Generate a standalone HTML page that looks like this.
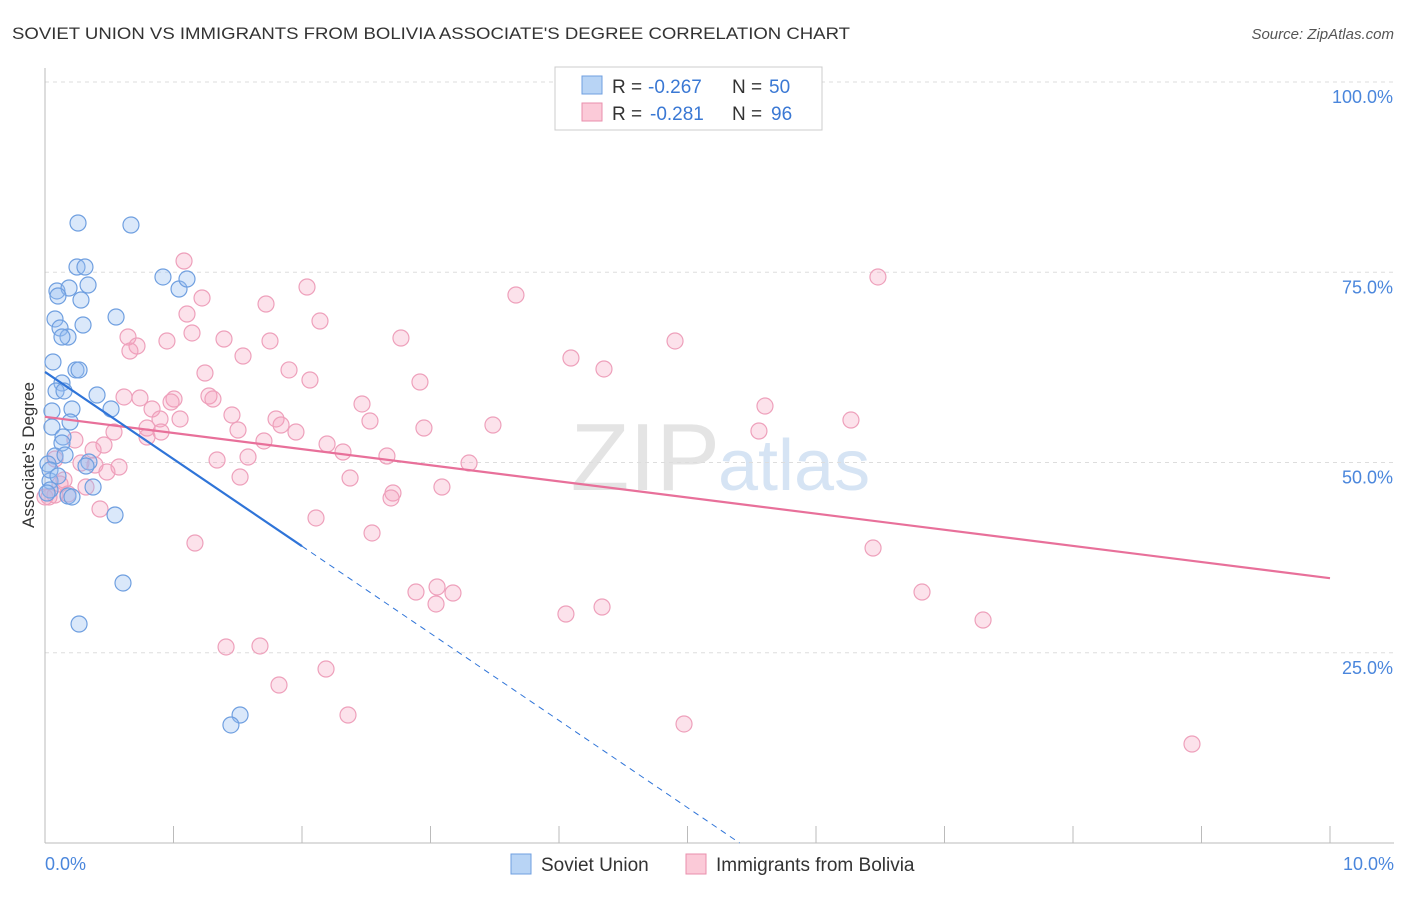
<!DOCTYPE html>
<html><head><meta charset="utf-8">
<style>
body{margin:0;background:#fff;font-family:"Liberation Sans",sans-serif;}
svg text{font-family:"Liberation Sans",sans-serif;}
</style></head>
<body>
<svg id="c" width="1406" height="892" xmlns="http://www.w3.org/2000/svg">
<text x="12" y="39" font-size="17" fill="#333" textLength="838" lengthAdjust="spacingAndGlyphs">SOVIET UNION VS IMMIGRANTS FROM BOLIVIA ASSOCIATE'S DEGREE CORRELATION CHART</text>
<text x="1394" y="39" font-size="15" fill="#555" text-anchor="end" font-style="italic">Source: ZipAtlas.com</text>
<text x="720" y="490" font-size="96" fill="#e4e4e4" text-anchor="end" font-family="Liberation Serif">ZIP</text>
<text x="718" y="490" font-size="72" fill="#d6e4f4">atlas</text>
<g id="grid"></g>
<g id="pts"></g>
<g id="trend"></g>
<text transform="translate(34,455) rotate(-90)" font-size="17" fill="#333" text-anchor="middle">Associate's Degree</text>
<g>
<rect x="555" y="67" width="267" height="63" fill="#fff" stroke="#ccc"/>
<rect x="582" y="76" width="20" height="18" fill="#b8d4f5" stroke="#6f9fe0"/>
<rect x="582" y="103" width="20" height="18" fill="#fbcad8" stroke="#ea8fac"/>
<text x="612" y="93" font-size="19" fill="#333">R =</text>
<text x="648" y="93" font-size="19" fill="#3a78d4">-0.267</text>
<text x="732" y="93" font-size="19" fill="#333">N =</text>
<text x="769" y="93" font-size="19" fill="#3a78d4">50</text>
<text x="612" y="120" font-size="19" fill="#333">R =</text>
<text x="650" y="120" font-size="19" fill="#3a78d4">-0.281</text>
<text x="732" y="120" font-size="19" fill="#333">N =</text>
<text x="771" y="120" font-size="19" fill="#3a78d4">96</text>
</g>
<g>
<rect x="511" y="854" width="20" height="20" fill="#b8d4f5" stroke="#6f9fe0"/>
<text x="541" y="871" font-size="19" fill="#333">Soviet Union</text>
<rect x="686" y="854" width="20" height="20" fill="#fbcad8" stroke="#ea8fac"/>
<text x="716" y="871" font-size="19" fill="#333">Immigrants from Bolivia</text>
</g>
</svg>
<script>
const yTicks=[25,50,75,100];
const yTickLabels=["25.0%","50.0%","75.0%","100.0%"];
const xTicks=[0,1,2,3,4,5,6,7,8,9,10];
const sovietPx=[[78,223],[131,225],[77,267],[85,267],[57,291],[69,288],[88,285],[58,296],[81,300],[163,277],[179,289],[187,279],[116,317],[55,319],[83,325],[60,328],[68,337],[62,337],[53,362],[76,370],[79,370],[62,383],[56,391],[97,395],[64,391],[72,409],[111,409],[52,411],[70,422],[52,427],[63,437],[62,443],[55,456],[89,462],[86,466],[48,464],[50,481],[50,490],[93,487],[68,496],[72,497],[47,493],[115,515],[123,583],[79,624],[240,715],[231,725],[50,470],[65,455],[58,476]];
const boliviaPx=[[184,261],[878,277],[307,287],[516,295],[202,298],[266,304],[187,314],[320,321],[192,333],[401,338],[675,341],[128,337],[167,341],[224,339],[270,341],[137,346],[130,351],[243,356],[571,358],[289,370],[604,369],[205,373],[420,382],[310,380],[209,396],[213,399],[124,397],[140,398],[174,399],[171,402],[362,404],[765,406],[152,409],[232,415],[276,419],[160,419],[370,421],[851,420],[281,425],[180,419],[147,428],[238,430],[296,432],[424,428],[493,425],[759,431],[114,432],[161,432],[147,437],[264,441],[327,444],[104,445],[75,440],[343,452],[93,450],[55,459],[387,456],[248,457],[217,460],[469,463],[95,465],[119,467],[81,463],[107,472],[240,477],[350,478],[64,480],[60,484],[86,487],[393,493],[442,487],[391,498],[100,509],[55,495],[49,497],[68,494],[316,518],[372,533],[195,543],[873,548],[437,587],[416,592],[453,593],[436,604],[922,592],[566,614],[602,607],[983,620],[226,647],[260,646],[326,669],[279,685],[348,715],[684,724],[1192,744],[45,497]];
const sovietX=sovietPx.map(p=>+((p[0]-45)/128.5).toFixed(3));
const sovietY=sovietPx.map(p=>+((843-p[1])/7.61).toFixed(2));
const boliviaX=boliviaPx.map(p=>+((p[0]-45)/128.5).toFixed(3));
const boliviaY=boliviaPx.map(p=>+((843-p[1])/7.61).toFixed(2));
const sovietTrend=[61.9,-11.45];
const boliviaTrend=[56.0,-2.12];
const X=v=>45+v*128.5, Y=v=>843-v*7.61;
const NS="http://www.w3.org/2000/svg";
function mk(t,a,p){const e=document.createElementNS(NS,t);for(const k in a)e.setAttribute(k,a[k]);p.appendChild(e);return e;}
const g=document.getElementById('grid');
yTicks.forEach((t,i)=>{
 const l=mk('line',{x1:45,x2:1394,y1:Y(t),y2:Y(t),stroke:'#ddd','stroke-dasharray':'4,4'},g);
 
 
 const tx=mk('text',{x:1393,y:Y(t)+21,'font-size':18,fill:'#4a86dc','text-anchor':'end'},g);
 tx.textContent=yTickLabels[i];
 
 
});
const ax=mk('line',{x1:45,x2:1394,y1:843,y2:843,stroke:'#bbb'},g);


const ay=mk('line',{x1:45,x2:45,y1:68,y2:843,stroke:'#bbb'},g);


xTicks.forEach(t=>{
 const l=mk('line',{x1:X(t),x2:X(t),y1:826,y2:843,stroke:'#bbb'},g);
 
 
});
[[0,'0.0%','start',45],[10,'10.0%','end',1394]].forEach(a=>{
 const tx=mk('text',{x:a[3],y:870,'font-size':18,fill:'#4a86dc','text-anchor':a[2]},g);
 tx.textContent=a[1];
 
 
});
const pg=document.getElementById('pts');
boliviaX.forEach((x,i)=>{
 const c=mk('circle',{cx:X(x),cy:Y(boliviaY[i]),r:8,fill:'rgba(245,160,190,0.3)',stroke:'#eea0bb','stroke-width':1.2},pg);
 
 
});
sovietX.forEach((x,i)=>{
 const c=mk('circle',{cx:X(x),cy:Y(sovietY[i]),r:8,fill:'rgba(150,190,240,0.35)',stroke:'#6f9fe0','stroke-width':1.2},pg);
 
 
});
const tg=document.getElementById('trend');
const f=(tr,x)=>tr[0]+tr[1]*x;
let l=mk('line',{x1:X(0),y1:Y(f(boliviaTrend,0)),x2:X(10),y2:Y(f(boliviaTrend,10)),stroke:'#e8709a','stroke-width':2.2},tg);


l=mk('line',{x1:X(0),y1:Y(f(sovietTrend,0)),x2:X(2),y2:Y(f(sovietTrend,2)),stroke:'#2f74d8','stroke-width':2.2},tg);


const xe=-sovietTrend[0]/sovietTrend[1];
l=mk('line',{x1:X(2),y1:Y(f(sovietTrend,2)),x2:X(xe),y2:Y(0),stroke:'#2f74d8','stroke-width':1,'stroke-dasharray':'6,5'},tg);


</script>
</body></html>
